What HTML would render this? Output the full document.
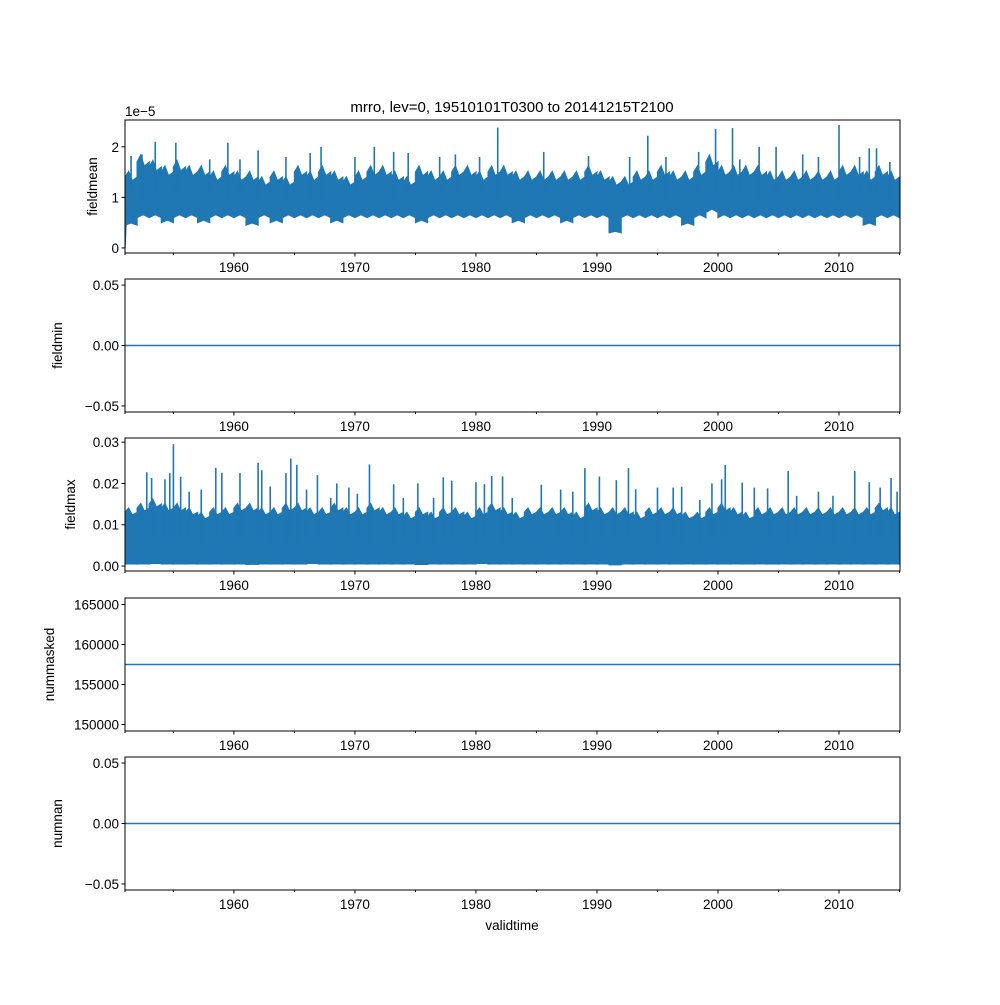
<!DOCTYPE html>
<html><head><meta charset="utf-8"><style>
body{margin:0;background:#fff}
svg text{font-family:"Liberation Sans","DejaVu Sans",sans-serif;font-size:13.5px;fill:#000}
</style></head><body>
<svg id="fig" width="1000" height="1000" xmlns="http://www.w3.org/2000/svg">
<text x="512" y="112" text-anchor="middle" font-size="15" style="font-size:15px">mrro, lev=0, 19510101T0300 to 20141215T2100</text>
<text x="125" y="116">1e−5</text>
<text x="512" y="930" text-anchor="middle">validtime</text>
</svg>
<script>
const years = [1951,1952,1953,1954,1955,1956,1957,1958,1959,1960,1961,1962,1963,1964,1965,1966,1967,1968,1969,1970,1971,1972,1973,1974,1975,1976,1977,1978,1979,1980,1981,1982,1983,1984,1985,1986,1987,1988,1989,1990,1991,1992,1993,1994,1995,1996,1997,1998,1999,2000,2001,2002,2003,2004,2005,2006,2007,2008,2009,2010,2011,2012,2013,2014];
const meanUpper = [1.4,1.7,1.6,1.5,1.6,1.5,1.5,1.4,1.5,1.4,1.4,1.3,1.4,1.3,1.5,1.4,1.5,1.4,1.3,1.4,1.5,1.5,1.4,1.3,1.5,1.4,1.4,1.5,1.5,1.4,1.5,1.5,1.4,1.4,1.4,1.4,1.4,1.4,1.5,1.4,1.3,1.3,1.4,1.4,1.5,1.4,1.4,1.5,1.7,1.5,1.5,1.5,1.5,1.4,1.4,1.4,1.4,1.4,1.4,1.5,1.5,1.4,1.5,1.4];
const meanLower = [0.45,0.6,0.6,0.5,0.6,0.6,0.5,0.6,0.6,0.6,0.45,0.6,0.5,0.6,0.6,0.6,0.6,0.5,0.6,0.6,0.6,0.6,0.6,0.6,0.5,0.6,0.6,0.6,0.6,0.6,0.6,0.6,0.5,0.6,0.6,0.6,0.5,0.6,0.6,0.6,0.3,0.6,0.6,0.6,0.6,0.6,0.45,0.6,0.7,0.6,0.6,0.6,0.6,0.6,0.6,0.6,0.6,0.6,0.6,0.6,0.6,0.45,0.6,0.6];
const meanSpikeX = [1951.5,1952.4,1953.5,1955.2,1958,1959.5,1960.5,1962,1964.3,1966.3,1967.2,1970,1971.6,1973.2,1974.4,1977,1978.3,1980.3,1981.8,1985.6,1989.3,1992.7,1994.2,1995.7,1998.4,1999.8,2001.2,2001.8,2003.4,2004.8,2007,2008.3,2010,2011.7,2012.5,2013.1,2014.2];
const meanSpikeY = [1.82,1.85,2.1,2.08,1.75,2.08,1.75,1.93,1.8,1.88,2.0,1.8,2.0,1.9,1.88,1.8,1.85,1.8,2.38,1.9,1.82,1.8,2.22,1.8,1.9,2.35,2.37,1.75,2.0,2.0,1.85,1.8,2.43,1.8,1.97,1.97,1.7];
const maxUpper = [0.013,0.014,0.015,0.014,0.014,0.013,0.012,0.013,0.013,0.014,0.014,0.013,0.013,0.014,0.014,0.013,0.013,0.014,0.013,0.013,0.014,0.013,0.013,0.012,0.013,0.012,0.013,0.013,0.012,0.013,0.014,0.013,0.012,0.013,0.013,0.013,0.013,0.012,0.014,0.013,0.013,0.013,0.012,0.013,0.013,0.013,0.012,0.012,0.013,0.014,0.013,0.012,0.013,0.013,0.013,0.013,0.013,0.013,0.013,0.013,0.013,0.013,0.014,0.013];
const maxLower = [0.0005,0.0005,0.0006,0.0005,0.0005,0.0005,0.0005,0.0005,0.0005,0.0005,0.0004,0.0005,0.0005,0.0005,0.0005,0.0006,0.0005,0.0005,0.0005,0.0005,0.0005,0.0005,0.0005,0.0005,0.0004,0.0005,0.0005,0.0005,0.0005,0.0006,0.0005,0.0005,0.0005,0.0005,0.0005,0.0005,0.0005,0.0005,0.0005,0.0005,0.0003,0.0005,0.0005,0.0005,0.0005,0.0005,0.0005,0.0005,0.0005,0.0005,0.0005,0.0005,0.0005,0.0005,0.0005,0.0005,0.0005,0.0005,0.0005,0.0005,0.0005,0.0005,0.0005,0.0005];
const maxSpikeX = [1952.8,1953.2,1954.3,1954.7,1955,1955.6,1956.3,1957.3,1958.5,1959,1960.5,1962,1962.3,1963,1964.3,1964.7,1965.2,1966,1966.9,1968,1968.5,1969.5,1970.2,1971.2,1973.2,1974,1975.2,1976.5,1977.3,1978,1980,1980.7,1981.3,1982.2,1983,1985.4,1987,1988,1989,1990.2,1991.6,1992.6,1993.2,1995,1996.3,1997,1998.5,1999.5,2000.3,2000.6,2002,2003,2004.1,2005.8,2006.5,2008.3,2009.5,2011.3,2012.5,2013.4,2014.3,2014.8];
const maxSpikeY = [0.0227,0.0213,0.021,0.0225,0.0295,0.0216,0.018,0.0185,0.0238,0.0226,0.0225,0.025,0.0232,0.0193,0.0225,0.026,0.0245,0.0185,0.022,0.0165,0.02,0.019,0.0175,0.0246,0.0198,0.0165,0.02,0.0165,0.0215,0.0207,0.0203,0.0198,0.0218,0.0217,0.0165,0.0197,0.0185,0.018,0.0237,0.0217,0.0208,0.0237,0.0186,0.019,0.019,0.0192,0.016,0.02,0.021,0.0245,0.0202,0.019,0.0188,0.023,0.017,0.018,0.017,0.023,0.0203,0.019,0.0213,0.018];
const fieldminValue = [0];
const nummaskedValue = [157500];
const numnanValue = [0];
const xTicks = [1960,1970,1980,1990,2000,2010];
const xMinor = [1955,1965,1975,1985,1995,2005,2015];

const NS='http://www.w3.org/2000/svg';
const svg=document.getElementById('fig');
const L=125,R=900,X0=1951.0,X1=2015.04;
const C='#1f77b4';
function sx(v){return L+(v-X0)/(X1-X0)*(R-L);}
function mk(tag,attrs,parent){const e=document.createElementNS(NS,tag);for(const k in attrs)e.setAttribute(k,attrs[k]);(parent||svg).appendChild(e);return e;}

const panels=[
 {name:'fieldmean',top:120,lo:-0.1,hi:2.53,ticks:[0,1,2],labels:['0','1','2'],lx:97},
 {name:'fieldmin',top:279,lo:-0.055,hi:0.055,ticks:[-0.05,0,0.05],labels:['−0.05','0.00','0.05'],lx:62},
 {name:'fieldmax',top:438,lo:-0.0012,hi:0.031,ticks:[0,0.01,0.02,0.03],labels:['0.00','0.01','0.02','0.03'],lx:75},
 {name:'nummasked',top:598,lo:149188,hi:165812,ticks:[150000,155000,160000,165000],labels:['150000','155000','160000','165000'],lx:54},
 {name:'numnan',top:757,lo:-0.055,hi:0.055,ticks:[-0.05,0,0.05],labels:['−0.05','0.00','0.05'],lx:62}
];
const H=133;
panels.forEach((p,i)=>{
  const g=mk('g',{});
  
  
  const sy=v=>p.top+H-(v-p.lo)/(p.hi-p.lo)*H;
  const clipId='clip'+i;
  const cp=mk('clipPath',{id:clipId},g);mk('rect',{x:L,y:p.top,width:R-L,height:H},cp);
  const dg=mk('g',{'clip-path':'url(#'+clipId+')'},g);
  
  
  function band(up,low,sx2,sy2){
    let d='';
    years.forEach((y,j)=>{const a=sx(y),b=sx(y+1);d+=(j?'L':'M')+a+','+sy(up[j])+'L'+(a+(b-a)*0.3)+','+sy(up[j]*1.08)+'L'+(a+(b-a)*0.6)+','+sy(up[j]*0.95)+'L'+b+','+sy(up[j]);});
    for(let j=years.length-1;j>=0;j--){const a=sx(years[j]),b=sx(years[j]+1);d+='L'+b+','+sy(low[j])+'L'+(a+(b-a)*0.5)+','+sy(low[j]*1.1)+'L'+a+','+sy(low[j]);}
    const pa=mk('path',{d:d+'Z',fill:C,stroke:C,'stroke-width':1.2},dg);
    
    
    sx2.forEach((x,j)=>{
      const l=mk('line',{x1:sx(x),x2:sx(x),y1:sy(sy2[j]),y2:sy(p.name==='fieldmean'?1.0:0.006),stroke:C,'stroke-width':1.6},dg);
      
      
    });
  }
  if(p.name==='fieldmean'){
    band(meanUpper,meanLower,meanSpikeX,meanSpikeY);
    mk('line',{x1:sx(1951.0),x2:sx(1951.15),y1:sy(0),y2:sy(0.9),stroke:C,'stroke-width':1.5},dg);
  } else if(p.name==='fieldmax'){
    band(maxUpper,maxLower,maxSpikeX,maxSpikeY);
  } else {
    const v=p.name==='fieldmin'?fieldminValue[0]:p.name==='nummasked'?nummaskedValue[0]:numnanValue[0];
    const l=mk('line',{x1:L,x2:R,y1:sy(v),y2:sy(v),stroke:C,'stroke-width':1.5},dg);
    
    
  }
  const fr=mk('rect',{x:L,y:p.top,width:R-L,height:H,fill:'none',stroke:'#000','stroke-width':1},g);
  
  
  p.ticks.forEach((t,j)=>{
    const y=sy(t);
    mk('line',{x1:L-3.5,x2:L,y1:y,y2:y,stroke:'#000'},g);
    const tx=mk('text',{x:L-6,y:y+5,'text-anchor':'end'},g);tx.textContent=p.labels[j];
    
    
  });
  xTicks.forEach(t=>{
    mk('line',{x1:sx(t),x2:sx(t),y1:p.top+H,y2:p.top+H+3.5,stroke:'#000'},g);
    const tx=mk('text',{x:sx(t),y:p.top+H+19,'text-anchor':'middle'},g);tx.textContent=t;
    
    
  });
  xMinor.concat([1951]).forEach(t=>{mk('line',{x1:sx(t),x2:sx(t),y1:p.top+H,y2:p.top+H+2,stroke:'#000'},g);});
  const yl=mk('text',{x:p.lx,y:p.top+H/2,'text-anchor':'middle',transform:'rotate(-90 '+p.lx+' '+(p.top+H/2)+')'},g);
  yl.textContent=p.name;
  
  
});
</script>
</body></html>
